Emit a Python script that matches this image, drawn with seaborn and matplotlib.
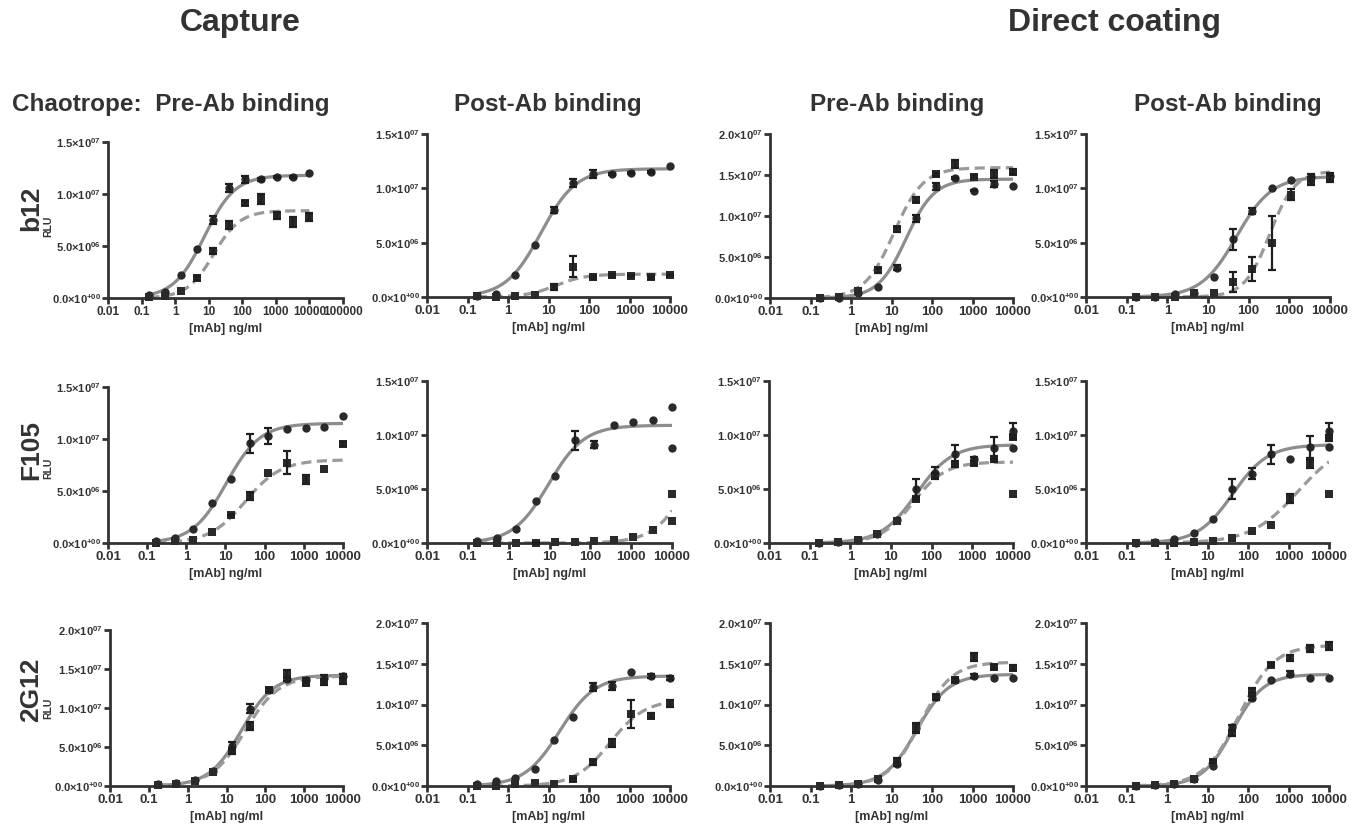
import numpy as np
import matplotlib
matplotlib.use("Agg")
import matplotlib.pyplot as plt
import seaborn as sns

# ---------------- data (RLU values in units of 1e6) ----------------
conc = [0.169, 0.508, 1.52, 4.57, 13.7, 41.2, 123, 370, 1111, 3333, 10000]

x_ticks = [0.01, 0.1, 1, 10, 100, 1000, 10000]
x_tick_labels = ["0.01", "0.1", "1", "10", "100", "1000", "10000"]
x_ticks_wide = [0.01, 0.1, 1, 10, 100, 1000, 10000, 100000]
x_tick_labels_wide = ["0.01", "0.1", "1", "10", "100", "1000", "10000", "100000"]
y_ticks_15 = [0, 5e6, 1e7, 1.5e7]
y_ticks_20 = [0, 5e6, 1e7, 1.5e7, 2e7]
y_tick_labels_20 = [r"0.0×10$\mathregular{^{+00}}$", r"5.0×10$\mathregular{^{06}}$",
                    r"1.0×10$\mathregular{^{07}}$", r"1.5×10$\mathregular{^{07}}$",
                    r"2.0×10$\mathregular{^{07}}$"]

group_titles = ["Capture", "Direct coating"]
column_titles = ["Chaotrope:  Pre-Ab binding", "Post-Ab binding", "Pre-Ab binding", "Post-Ab binding"]
antibodies = ["b12", "F105", "2G12"]
x_label = "[mAb] ng/ml"
y_label = "RLU"

# fits: [top (1e6), EC50 (ng/ml), hill slope]
# ---- b12, capture, pre-Ab
b12_cap_pre_dot = [0.3, 0.6, 2.2, 4.7, 7.5, 10.6, 11.4, 11.4, 11.6, 11.6, 12.0]
b12_cap_pre_dot_err = [0, 0, 0, 0, 0.35, 0.4, 0.3, 0.15, 0.1, 0.1, 0]
b12_cap_pre_sq = [0.1, 0.2, 0.7, 1.9, 4.5, 7.0, 9.1, 9.5, 7.9, 7.3, 7.8]
b12_cap_pre_sq_err = [0, 0, 0, 0.2, 0.3, 0.4, 0.2, 0.5, 0.35, 0.45, 0.35]
b12_cap_pre_fit_dot = [11.8, 7.4, 0.95]
b12_cap_pre_fit_sq = [8.4, 14, 1.1]
# ---- b12, capture, post-Ab
b12_cap_post_dot = [0.1, 0.3, 2.0, 4.8, 8.0, 10.5, 11.3, 11.3, 11.4, 11.5, 12.1]
b12_cap_post_dot_err = [0, 0, 0, 0, 0.25, 0.35, 0.35, 0.1, 0.1, 0.1, 0]
b12_cap_post_sq = [0.1, 0.0, 0.05, 0.2, 0.9, 2.8, 1.8, 2.0, 1.9, 1.8, 2.0]
b12_cap_post_sq_err = [0, 0, 0, 0, 0.3, 1.0, 0.15, 0.15, 0.1, 0.1, 0.1]
b12_cap_post_fit_dot = [11.8, 6.5, 1.0]
b12_cap_post_fit_sq = [2.1, 15, 1.2]
# ---- b12, direct coating, pre-Ab
b12_dir_pre_dot = [0.0, 0.0, 0.6, 1.3, 3.7, 9.7, 13.6, 14.6, 13.1, 13.9, 13.7]
b12_dir_pre_dot_err = [0, 0, 0, 0, 0.3, 0.4, 0.4, 0.1, 0.1, 0.4, 0]
b12_dir_pre_sq = [0.0, 0.1, 0.8, 3.4, 8.4, 12.0, 15.1, 16.3, 14.8, 15.1, 15.4]
b12_dir_pre_sq_err = [0, 0, 0, 0.3, 0.3, 0.3, 0.2, 0.5, 0.2, 0.5, 0.3]
b12_dir_pre_fit_dot = [14.5, 23, 1.25]
b12_dir_pre_fit_sq = [15.9, 11.5, 1.2]
# ---- b12, direct coating, post-Ab
b12_dir_post_dot = [0.0, 0.0, 0.3, 0.4, 1.8, 5.3, 7.9, 10.0, 10.8, 11.0, 11.1]
b12_dir_post_dot_err = [0, 0, 0, 0, 0, 1.0, 0.3, 0, 0, 0.3, 0.3]
b12_dir_post_sq = [0.0, 0.0, 0.0, 0.4, 0.4, 1.4, 2.6, 5.0, 9.4, 10.7, 10.9]
b12_dir_post_sq_err = [0, 0, 0, 0, 0, 0.9, 1.1, 2.5, 0.5, 0.35, 0.3]
b12_dir_post_fit_dot = [11.1, 50, 1.0]
b12_dir_post_fit_sq = [11.6, 330, 1.4]
# ---- F105, capture, pre-Ab
f105_cap_pre_dot = [0.15, 0.5, 1.3, 3.8, 6.2, 9.6, 10.3, 11.0, 11.1, 11.2, 12.2]
f105_cap_pre_dot_err = [0, 0, 0, 0, 0, 0.9, 0.8, 0, 0, 0, 0]
f105_cap_pre_sq = [0.0, 0.15, 0.3, 1.1, 2.7, 4.5, 6.7, 7.7, 6.1, 7.1, 9.5]
f105_cap_pre_sq_err = [0, 0, 0, 0, 0.1, 0.4, 0, 1.1, 0.4, 0, 0.2]
f105_cap_pre_fit_dot = [11.5, 10.5, 1.0]
f105_cap_pre_fit_sq = [8.0, 32, 0.95]
# ---- F105, capture, post-Ab
f105_cap_post_dot = [0.15, 0.5, 1.3, 3.9, 6.2, 9.5, 9.1, 10.9, 11.2, 11.4, 12.6]
f105_cap_post_dot_err = [0, 0, 0, 0, 0, 0.9, 0.3, 0, 0, 0, 0]
f105_cap_post_sq = [0.0, 0.0, 0.0, 0.0, 0.05, 0.1, 0.2, 0.3, 0.6, 1.2, 4.5]
f105_cap_post_sq_err = [0, 0, 0, 0.1, 0, 0, 0, 0, 0, 0, 0]
f105_cap_post_extra_dot = [8.8]
f105_cap_post_extra_sq = [2.0]
f105_cap_post_fit_dot = [10.9, 9.5, 1.0]
f105_cap_post_fit_sq = [12.0, 30000, 1.0]
# ---- F105, direct coating, pre-Ab
f105_dir_pre_dot = [0.0, 0.1, 0.3, 0.85, 2.1, 5.0, 6.5, 8.2, 7.8, 8.8, 10.4]
f105_dir_pre_dot_err = [0, 0, 0, 0, 0, 0.9, 0.5, 0.9, 0.2, 1.0, 0.7]
f105_dir_pre_sq = [0.0, 0.1, 0.3, 0.85, 2.0, 4.1, 6.2, 7.3, 7.4, 7.8, 9.8]
f105_dir_pre_sq_err = [0, 0, 0, 0, 0, 0.2, 0.3, 0.3, 0.2, 0.3, 0.2]
f105_dir_pre_extra_dot = [8.8]
f105_dir_pre_extra_sq = [4.5]
f105_dir_pre_fit_dot = [9.1, 42, 1.0]
f105_dir_pre_fit_sq = [7.5, 35, 1.1]
# ---- F105, direct coating, post-Ab
f105_dir_post_dot = [0.0, 0.1, 0.4, 0.9, 2.2, 5.0, 6.4, 8.2, 7.8, 8.9, 10.4]
f105_dir_post_dot_err = [0, 0, 0, 0, 0, 0.9, 0.5, 0.9, 0, 1.0, 0.7]
f105_dir_post_sq = [0.0, 0.0, 0.0, 0.1, 0.15, 0.45, 1.1, 1.7, 4.1, 7.3, 9.7]
f105_dir_post_sq_err = [0, 0, 0, 0, 0, 0, 0, 0, 0.4, 0.4, 0.3]
f105_dir_post_extra_dot = [8.9]
f105_dir_post_extra_sq = [4.5]
f105_dir_post_fit_dot = [9.1, 42, 1.0]
f105_dir_post_fit_sq = [9.5, 1700, 0.75]
# ---- 2G12, capture, pre-Ab
g2g12_cap_pre_dot = [0.2, 0.4, 0.8, 1.9, 5.1, 9.9, 12.3, 13.7, 13.6, 13.9, 14.1]
g2g12_cap_pre_dot_err = [0, 0, 0, 0, 0.5, 0.6, 0.3, 0.3, 0.3, 0.3, 0.3]
g2g12_cap_pre_sq = [0.1, 0.3, 0.6, 1.8, 4.5, 7.7, 12.3, 14.4, 13.2, 13.3, 13.5]
g2g12_cap_pre_sq_err = [0, 0, 0, 0, 0.4, 0.5, 0.3, 0.5, 0.3, 0.4, 0.4]
g2g12_cap_pre_fit_dot = [14.2, 24, 1.05]
g2g12_cap_pre_fit_sq = [14.1, 30, 1.0]
# ---- 2G12, capture, post-Ab
g2g12_cap_post_dot = [0.3, 0.6, 1.0, 2.1, 5.6, 8.5, 12.1, 12.3, 14.0, 13.5, 13.3]
g2g12_cap_post_dot_err = [0, 0, 0, 0, 0, 0, 0.5, 0.5, 0, 0.2, 0.25]
g2g12_cap_post_sq = [0.0, 0.0, 0.3, 0.4, 0.3, 0.8, 2.9, 5.3, 8.8, 8.6, 10.1]
g2g12_cap_post_sq_err = [0, 0, 0, 0, 0, 0.2, 0.3, 0.5, 1.7, 0.3, 0.4]
g2g12_cap_post_fit_dot = [13.5, 19, 1.0]
g2g12_cap_post_fit_sq = [10.6, 330, 1.0]
# ---- 2G12, direct coating, pre-Ab
g2g12_dir_pre_dot = [0.0, 0.1, 0.2, 0.7, 2.7, 7.1, 10.9, 13.0, 13.5, 13.2, 13.2]
g2g12_dir_pre_dot_err = [0, 0, 0, 0, 0.2, 0.5, 0.3, 0.2, 0.3, 0, 0]
g2g12_dir_pre_sq = [0.0, 0.1, 0.2, 0.8, 3.1, 7.1, 10.9, 13.0, 15.8, 14.6, 14.5]
g2g12_dir_pre_sq_err = [0, 0, 0, 0, 0.3, 0.6, 0.3, 0.3, 0.5, 0.2, 0.3]
g2g12_dir_pre_fit_dot = [13.7, 42, 1.1]
g2g12_dir_pre_fit_sq = [15.2, 50, 1.1]
# ---- 2G12, direct coating, post-Ab
g2g12_dir_post_dot = [0.0, 0.1, 0.3, 0.8, 2.5, 7.2, 10.8, 13.0, 13.8, 13.2, 13.2]
g2g12_dir_post_dot_err = [0, 0, 0, 0, 0, 0.3, 0.3, 0, 0.3, 0, 0]
g2g12_dir_post_sq = [0.0, 0.1, 0.3, 0.9, 3.0, 6.5, 11.7, 14.9, 15.7, 16.9, 17.2]
g2g12_dir_post_sq_err = [0, 0, 0, 0, 0.2, 0.4, 0.3, 0.2, 0.4, 0.4, 0.5]
g2g12_dir_post_fit_dot = [13.7, 42, 1.15]
g2g12_dir_post_fit_sq = [17.3, 60, 1.0]

# ---------------- styling / layout ----------------
TEXT = "#333333"
AXIS = "#333333"
MARK = "#2a2a2a"
LINE_SOLID = "#8d8d8d"
LINE_DASH = "#9a9a9a"
W, H = 1360, 830

sns.set_theme(style="ticks")
plt.rcParams["font.family"] = ["Liberation Sans", "DejaVu Sans"]
plt.rcParams["font.weight"] = "bold"
plt.rcParams["axes.linewidth"] = 2.0

fig = plt.figure(figsize=(W / 100, H / 100), dpi=100)

# panel pixel boxes: (left, right, y of zero, y of top tick)
panel_boxes = [
    [(108, 343, 298, 142), (427, 670, 297, 134), (770, 1013, 298, 134), (1086, 1330, 297, 134)],
    [(108, 343, 543, 387), (427, 672, 543, 381), (769, 1013, 543, 381), (1086, 1329, 543, 381)],
    [(110, 343, 786, 630), (427, 670, 786, 623), (770, 1013, 786, 623), (1086, 1329, 786, 623)],
]

panels = [
    [
        dict(dot=b12_cap_pre_dot, dot_err=b12_cap_pre_dot_err, sq=b12_cap_pre_sq, sq_err=b12_cap_pre_sq_err,
             fit_dot=b12_cap_pre_fit_dot, fit_sq=b12_cap_pre_fit_sq, ymax=1.5e7, wide=True),
        dict(dot=b12_cap_post_dot, dot_err=b12_cap_post_dot_err, sq=b12_cap_post_sq, sq_err=b12_cap_post_sq_err,
             fit_dot=b12_cap_post_fit_dot, fit_sq=b12_cap_post_fit_sq, ymax=1.5e7),
        dict(dot=b12_dir_pre_dot, dot_err=b12_dir_pre_dot_err, sq=b12_dir_pre_sq, sq_err=b12_dir_pre_sq_err,
             fit_dot=b12_dir_pre_fit_dot, fit_sq=b12_dir_pre_fit_sq, ymax=2e7),
        dict(dot=b12_dir_post_dot, dot_err=b12_dir_post_dot_err, sq=b12_dir_post_sq, sq_err=b12_dir_post_sq_err,
             fit_dot=b12_dir_post_fit_dot, fit_sq=b12_dir_post_fit_sq, ymax=1.5e7),
    ],
    [
        dict(dot=f105_cap_pre_dot, dot_err=f105_cap_pre_dot_err, sq=f105_cap_pre_sq, sq_err=f105_cap_pre_sq_err,
             fit_dot=f105_cap_pre_fit_dot, fit_sq=f105_cap_pre_fit_sq, ymax=1.5e7),
        dict(dot=f105_cap_post_dot, dot_err=f105_cap_post_dot_err, sq=f105_cap_post_sq, sq_err=f105_cap_post_sq_err,
             fit_dot=f105_cap_post_fit_dot, fit_sq=f105_cap_post_fit_sq, ymax=1.5e7,
             extra_dot=f105_cap_post_extra_dot, extra_sq=f105_cap_post_extra_sq),
        dict(dot=f105_dir_pre_dot, dot_err=f105_dir_pre_dot_err, sq=f105_dir_pre_sq, sq_err=f105_dir_pre_sq_err,
             fit_dot=f105_dir_pre_fit_dot, fit_sq=f105_dir_pre_fit_sq, ymax=1.5e7,
             extra_dot=f105_dir_pre_extra_dot, extra_sq=f105_dir_pre_extra_sq),
        dict(dot=f105_dir_post_dot, dot_err=f105_dir_post_dot_err, sq=f105_dir_post_sq, sq_err=f105_dir_post_sq_err,
             fit_dot=f105_dir_post_fit_dot, fit_sq=f105_dir_post_fit_sq, ymax=1.5e7,
             extra_dot=f105_dir_post_extra_dot, extra_sq=f105_dir_post_extra_sq),
    ],
    [
        dict(dot=g2g12_cap_pre_dot, dot_err=g2g12_cap_pre_dot_err, sq=g2g12_cap_pre_sq, sq_err=g2g12_cap_pre_sq_err,
             fit_dot=g2g12_cap_pre_fit_dot, fit_sq=g2g12_cap_pre_fit_sq, ymax=2e7),
        dict(dot=g2g12_cap_post_dot, dot_err=g2g12_cap_post_dot_err, sq=g2g12_cap_post_sq, sq_err=g2g12_cap_post_sq_err,
             fit_dot=g2g12_cap_post_fit_dot, fit_sq=g2g12_cap_post_fit_sq, ymax=2e7),
        dict(dot=g2g12_dir_pre_dot, dot_err=g2g12_dir_pre_dot_err, sq=g2g12_dir_pre_sq, sq_err=g2g12_dir_pre_sq_err,
             fit_dot=g2g12_dir_pre_fit_dot, fit_sq=g2g12_dir_pre_fit_sq, ymax=2e7),
        dict(dot=g2g12_dir_post_dot, dot_err=g2g12_dir_post_dot_err, sq=g2g12_dir_post_sq, sq_err=g2g12_dir_post_sq_err,
             fit_dot=g2g12_dir_post_fit_dot, fit_sq=g2g12_dir_post_fit_sq, ymax=2e7),
    ],
]


def four_pl(xs, params):
    top, ec50, hill = params
    return top * 1e6 / (1.0 + (ec50 / xs) ** hill)


def draw_panel(ax, p):
    x = np.array(conc)
    xs = np.logspace(np.log10(conc[0]), np.log10(conc[-1]), 300)
    ax.set_xscale("log")
    sns.lineplot(x=xs, y=four_pl(xs, p["fit_dot"]), ax=ax, color=LINE_SOLID,
                 linewidth=2.3, zorder=2)
    sns.lineplot(x=xs, y=four_pl(xs, p["fit_sq"]), ax=ax, color=LINE_DASH,
                 linewidth=2.3, linestyle=(0, (3.2, 1.7)), zorder=2)
    for vals, errs, mk, sz in ((p["dot"], p["dot_err"], "o", 36), (p["sq"], p["sq_err"], "s", 32)):
        y = np.array(vals) * 1e6
        e = np.array(errs) * 1e6
        sns.scatterplot(x=x, y=y, ax=ax, marker=mk, s=sz, color=MARK, edgecolor=MARK,
                        linewidth=0, zorder=4, clip_on=False)
        m = e > 0
        if m.any():
            ax.errorbar(x[m], y[m], yerr=e[m], fmt="none", ecolor="#1e1e1e", elinewidth=1.6,
                        capsize=3.2, capthick=1.6, zorder=5, clip_on=False)
    if "extra_dot" in p:
        sns.scatterplot(x=[conc[-1]] * len(p["extra_dot"]), y=np.array(p["extra_dot"]) * 1e6, ax=ax,
                        marker="o", s=36, color=MARK, edgecolor=MARK, linewidth=0, zorder=4, clip_on=False)
        sns.scatterplot(x=[conc[-1]] * len(p["extra_sq"]), y=np.array(p["extra_sq"]) * 1e6, ax=ax,
                        marker="s", s=32, color=MARK, edgecolor=MARK, linewidth=0, zorder=4, clip_on=False)

    wide = p.get("wide", False)
    ax.set_xlim(0.01, 1e5 if wide else 1e4)
    ax.set_xticks(x_ticks_wide if wide else x_ticks)
    ax.set_xticklabels(x_tick_labels_wide if wide else x_tick_labels)
    ax.xaxis.set_minor_locator(matplotlib.ticker.NullLocator())
    ymax = p["ymax"]
    yt = y_ticks_20 if ymax > 1.6e7 else y_ticks_15
    ax.set_ylim(0, ymax)
    ax.set_yticks(yt)
    ax.set_yticklabels(y_tick_labels_20[:len(yt)])
    ax.set_xlabel(x_label, fontsize=9, fontweight="bold", color=TEXT, labelpad=3.5)
    ax.set_ylabel("")
    sns.despine(ax=ax)
    for s in ("left", "bottom"):
        ax.spines[s].set_linewidth(2.0)
        ax.spines[s].set_color(AXIS)
    ax.tick_params(axis="both", direction="out", length=4, width=2.0, color=AXIS, pad=2)
    ax.tick_params(axis="x", labelsize=8.5 if wide else 9.5, labelcolor=TEXT)
    ax.tick_params(axis="y", labelsize=8, labelcolor=TEXT, pad=1)
    for lab in ax.get_xticklabels() + ax.get_yticklabels():
        lab.set_fontweight("bold")
    ax.set_facecolor("none")
    ax.grid(False)


for r in range(3):
    for c in range(4):
        l, rr, y0, yt = panel_boxes[r][c]
        ax = fig.add_axes([l / W, 1 - y0 / H, (rr - l) / W, (y0 - yt) / H])
        draw_panel(ax, panels[r][c])

# titles
fig.text(240 / W, 1 - 23 / H, group_titles[0], ha="center", va="center", fontsize=23,
         fontweight="bold", color=TEXT)
fig.text(1115 / W, 1 - 23 / H, group_titles[1], ha="center", va="center", fontsize=23,
         fontweight="bold", color=TEXT)
fig.text(12 / W, 1 - 104 / H, column_titles[0], ha="left", va="center", fontsize=17.5,
         fontweight="bold", color=TEXT)
for cx, t in zip([548, 897, 1228], column_titles[1:]):
    fig.text(cx / W, 1 - 104 / H, t, ha="center", va="center", fontsize=17.5,
             fontweight="bold", color=TEXT)

# row labels
for name, cy in zip(antibodies, [208, 450, 690]):
    fig.text(31 / W, 1 - cy / H, name, ha="center", va="center", rotation=90, fontsize=19,
             fontweight="bold", color=TEXT)
    fig.text(48 / W, 1 - (cy + 18) / H, y_label, ha="center", va="center", rotation=90,
             fontsize=7.5, fontweight="bold", color=TEXT)

fig.savefig("out.png", dpi=100, facecolor="white")
